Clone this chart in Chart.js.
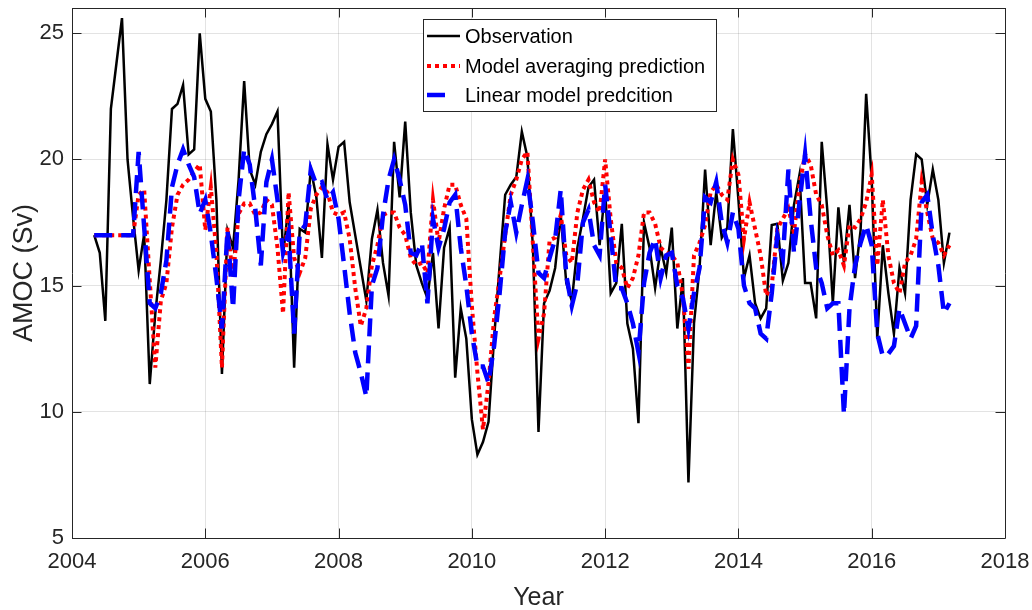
<!DOCTYPE html>
<html>
<head>
<meta charset="utf-8">
<script src="https://cdn.jsdelivr.net/npm/chart.js@4.4.1/dist/chart.umd.min.js"></script>
<style>
  html, body { margin: 0; padding: 0; background: #fff; }
  #wrap { width: 1032px; height: 610px; }
</style>
</head>
<body>
<div id="wrap"><canvas id="amoc" width="1032" height="610"></canvas></div>
<script>
// monthly series, first sample April 2004
const START_YEAR = 2004;
const START_MONTH = 4;

const observation = [
  17.0, 16.3, 13.6, 22.0, 23.8, 25.6, 20.0, 17.7, 15.6, 17.05,
  11.1, 13.9, 16.0, 18.4, 22.0, 22.2, 22.95, 20.2, 20.4, 25.0,
  22.4, 21.9, 18.4, 11.5, 17.2, 16.5, 19.2, 23.1, 19.6, 19.0,
  20.3, 21.0, 21.4, 21.9, 16.2, 18.2, 11.75, 17.25, 17.1, 19.6,
  18.5, 16.1, 20.6, 19.2, 20.5, 20.7, 18.3, 17.0, 15.7, 14.4,
  16.85, 18.0, 15.9, 14.6, 20.7, 18.5, 21.5, 17.9, 15.8, 15.1,
  14.5, 16.3, 13.3, 16.5, 17.3, 11.35, 14.1, 12.9, 9.7, 8.3,
  8.8, 9.6, 12.9, 15.8, 18.6, 19.0, 19.3, 21.1, 20.1, 16.5,
  9.2, 14.3, 14.8, 15.7, 17.8, 15.1, 14.4, 16.5, 17.65, 18.9,
  19.2, 16.6, 18.8, 14.7, 15.1, 17.45, 13.5, 12.5, 9.55, 17.5,
  16.5, 14.9, 16.5, 15.5, 17.3, 13.3, 15.3, 7.2, 13.5, 15.7,
  19.6, 16.6, 18.7, 16.9, 17.3, 21.2, 18.4, 15.3, 16.2, 14.3,
  13.7, 14.1, 17.4, 17.45, 15.2, 15.9, 18.2, 19.4, 15.1, 15.1,
  13.7, 20.7, 18.0, 14.3, 18.1, 15.9, 18.2, 15.3, 17.2, 22.6,
  19.2, 12.9, 16.6, 14.7, 13.1, 15.7, 14.7, 18.4, 20.2, 20.0,
  18.2, 19.6, 18.4, 15.9, 17.1
];

const modelAveraging = [
  17.0, 17.0, 17.0, 17.0, 17.0, 17.0, 17.0, 17.0, 18.6, 18.8,
  15.2, 11.75, 14.4, 15.1, 17.3, 18.6, 19.0, 19.2, 19.5, 19.8,
  17.2, 18.9, 16.3, 11.75, 17.3, 15.3, 17.85, 18.25, 18.25, 17.8,
  17.9, 18.4, 18.2, 16.5, 13.9, 18.7, 16.1, 15.5, 16.1, 18.05,
  18.6, 18.9, 18.7, 17.9, 17.8, 17.9, 16.85, 14.9, 13.4, 14.1,
  15.8, 16.6, 17.8, 17.9, 17.9, 17.3, 17.0, 16.1, 15.8, 15.9,
  15.5, 18.4, 16.7, 18.05, 19.0, 19.0, 18.2, 17.65, 14.2, 11.55,
  9.3, 11.15, 13.7, 15.3, 17.0, 18.6, 19.2, 20.0, 20.3, 16.6,
  12.9, 13.9, 16.8, 16.9, 17.8, 16.2, 15.9, 17.9, 18.8, 19.2,
  18.3, 17.9, 20.0, 17.65, 15.9, 15.7, 14.9, 15.3, 16.2, 17.9,
  17.9, 17.45, 16.5, 16.3, 16.2, 15.9, 14.6, 11.7, 16.2, 16.7,
  17.4, 18.7, 19.0, 18.6, 18.4, 20.0, 19.4, 16.85, 18.3, 17.25,
  16.2, 14.6, 15.0, 17.25, 17.65, 18.05, 17.1, 19.0, 20.2, 19.8,
  18.6, 18.2, 17.0, 16.2, 16.4, 15.8, 17.4, 17.3, 17.65, 18.3,
  19.4, 15.8, 18.4, 16.2, 15.1, 14.7, 15.9, 16.2, 16.85, 19.1,
  17.9, 16.85, 16.7, 16.2, 16.6
];

const linearModel = [
  17.0, 17.0, 17.0, 17.0, 17.0, 17.0, 17.0, 17.0, 20.3, 17.3,
  14.3, 14.1, 14.7, 16.0, 18.9, 19.8, 20.4, 19.8, 19.3, 17.85,
  18.4, 17.05, 15.3, 13.3, 17.2, 14.1, 18.4, 20.4, 19.8, 18.05,
  15.8, 19.1, 20.0, 18.4, 16.3, 17.1, 13.1, 17.1, 17.4, 19.6,
  19.0, 19.1, 18.4, 18.7, 17.65, 15.8, 13.9, 12.35, 11.55, 10.6,
  15.0, 15.7, 17.8, 19.2, 20.0, 19.2, 18.2, 16.3, 16.2, 16.7,
  14.3, 17.65, 16.5, 17.25, 18.3, 18.6, 16.5, 15.0, 13.1, 11.8,
  11.8, 11.15, 12.6, 14.7, 17.1, 18.3, 17.1, 18.2, 19.2, 17.5,
  15.5, 15.3, 16.1, 16.85, 18.8, 15.4, 14.2, 15.1, 17.5, 18.0,
  16.6, 16.2, 19.0, 17.0, 14.9, 14.9, 14.3, 13.5, 12.35, 15.1,
  16.3, 16.85, 15.3, 16.2, 16.3, 15.0, 14.5, 13.3, 14.7, 15.7,
  18.5, 18.3, 19.1, 17.5, 16.7, 17.9, 17.25, 15.0, 14.3, 14.1,
  13.1, 12.9, 14.7, 17.0, 16.1, 19.6, 16.3, 18.3, 20.2, 17.65,
  15.7, 15.1, 14.1, 14.3, 14.3, 9.9, 14.1, 15.8, 16.7, 17.4,
  16.6, 13.1, 12.2, 12.3, 12.6, 14.1, 13.5, 12.9, 13.4, 18.3,
  18.6, 17.0, 15.8, 13.9, 14.3
];

const SERIES_LABELS = ['Observation', 'Model averaging prediction', 'Linear model predcition'];
const X_TICKS = [2004, 2006, 2008, 2010, 2012, 2014, 2016, 2018];
const Y_TICKS = [5, 10, 15, 20, 25];

const FONT = 'Liberation Sans, Arial, Helvetica, sans-serif';
const AXIS_COLOR = '#262626';
const TICK_LEN = 9.5;

const toPoints = arr => arr.map((v, i) => ({ x: START_YEAR + (START_MONTH + i) / 12, y: v }));

const styles = [
  { color: '#000000', width: 2.5, dash: [] },
  { color: '#ff0000', width: 4, dash: [4, 4] },
  { color: '#0000ff', width: 4.5, dash: [18, 9] }
];

// MATLAB-like box with inward ticks on all four sides
const axesBox = {
  id: 'axesBox',
  afterDatasetsDraw(chart) {
    const { ctx, chartArea: a, scales: { x, y } } = chart;
    ctx.save();
    ctx.strokeStyle = AXIS_COLOR;
    ctx.lineWidth = 1;
    ctx.beginPath();
    X_TICKS.forEach(v => {
      const px = Math.round(x.getPixelForValue(v)) + 0.5;
      ctx.moveTo(px, a.bottom); ctx.lineTo(px, a.bottom - TICK_LEN);
      ctx.moveTo(px, a.top); ctx.lineTo(px, a.top + TICK_LEN);
    });
    Y_TICKS.forEach(v => {
      const py = Math.round(y.getPixelForValue(v)) + 0.5;
      ctx.moveTo(a.left, py); ctx.lineTo(a.left + TICK_LEN, py);
      ctx.moveTo(a.right, py); ctx.lineTo(a.right - TICK_LEN, py);
    });
    ctx.rect(Math.round(a.left) + 0.5, Math.round(a.top) + 0.5,
             Math.round(a.right - a.left), Math.round(a.bottom - a.top));
    ctx.stroke();
    ctx.restore();
  }
};

const boxLegend = {
  id: 'boxLegend',
  afterDraw(chart) {
    const ctx = chart.ctx;
    const bx = 423.5, by = 19.5, bw = 293, bh = 92;
    const rows = [36, 66, 95];
    ctx.save();
    ctx.fillStyle = '#ffffff';
    ctx.fillRect(bx, by, bw, bh);
    ctx.strokeStyle = AXIS_COLOR;
    ctx.lineWidth = 1;
    ctx.strokeRect(bx, by, bw, bh);
    ctx.font = '20px ' + FONT;
    ctx.textBaseline = 'middle';
    ctx.textAlign = 'left';
    SERIES_LABELS.forEach((label, i) => {
      const s = styles[i];
      ctx.beginPath();
      ctx.strokeStyle = s.color;
      ctx.lineWidth = s.width;
      ctx.setLineDash(s.dash);
      ctx.moveTo(427, rows[i]);
      ctx.lineTo(i === 2 ? 445 : 460, rows[i]);
      ctx.stroke();
      ctx.setLineDash([]);
      ctx.fillStyle = '#000000';
      ctx.fillText(label, 465, rows[i] + 1);
    });
    ctx.restore();
  }
};

const series = [observation, modelAveraging, linearModel];

new Chart(document.getElementById('amoc'), {
  type: 'line',
  data: {
    datasets: series.map((arr, i) => ({
      label: SERIES_LABELS[i],
      data: toPoints(arr),
      borderColor: styles[i].color,
      borderWidth: styles[i].width,
      borderDash: styles[i].dash,
      borderCapStyle: 'butt',
      borderJoinStyle: 'miter',
      order: 3 - i
    }))
  },
  options: {
    responsive: false,
    animation: false,
    layout: { padding: { left: 0, right: 27, top: 8, bottom: 0 } },
    elements: { point: { radius: 0 }, line: { tension: 0, fill: false } },
    plugins: { legend: { display: false }, tooltip: { enabled: false } },
    scales: {
      x: {
        type: 'linear',
        min: 2004,
        max: 2018,
        afterBuildTicks: s => { s.ticks = X_TICKS.map(v => ({ value: v })); },
        afterFit: s => { s.height = 72; s.paddingLeft = 0; s.paddingRight = 0; },
        border: { display: false },
        grid: { color: 'rgba(38,38,38,0.13)', lineWidth: 1, drawTicks: false },
        ticks: {
          color: AXIS_COLOR, padding: 11, maxRotation: 0, autoSkip: false,
          font: { family: FONT, size: 22 },
          callback: v => String(v)
        },
        title: {
          display: true, text: 'Year', color: AXIS_COLOR,
          font: { family: FONT, size: 25 }, padding: { top: 0, bottom: -3 }
        }
      },
      y: {
        min: 5,
        max: 26,
        afterBuildTicks: s => { s.ticks = Y_TICKS.map(v => ({ value: v })); },
        afterFit: s => { s.width = 72; s.paddingTop = 0; s.paddingBottom = 0; },
        border: { display: false },
        grid: { color: 'rgba(38,38,38,0.13)', lineWidth: 1, drawTicks: false },
        ticks: {
          color: AXIS_COLOR, padding: 8,
          font: { family: FONT, size: 22 },
          callback: v => String(v)
        },
        title: {
          display: true, text: 'AMOC (Sv)', color: AXIS_COLOR,
          font: { family: FONT, size: 27 }, padding: { top: 8, bottom: 0 }
        }
      }
    }
  },
  plugins: [axesBox, boxLegend]
});
</script>
</body>
</html>
